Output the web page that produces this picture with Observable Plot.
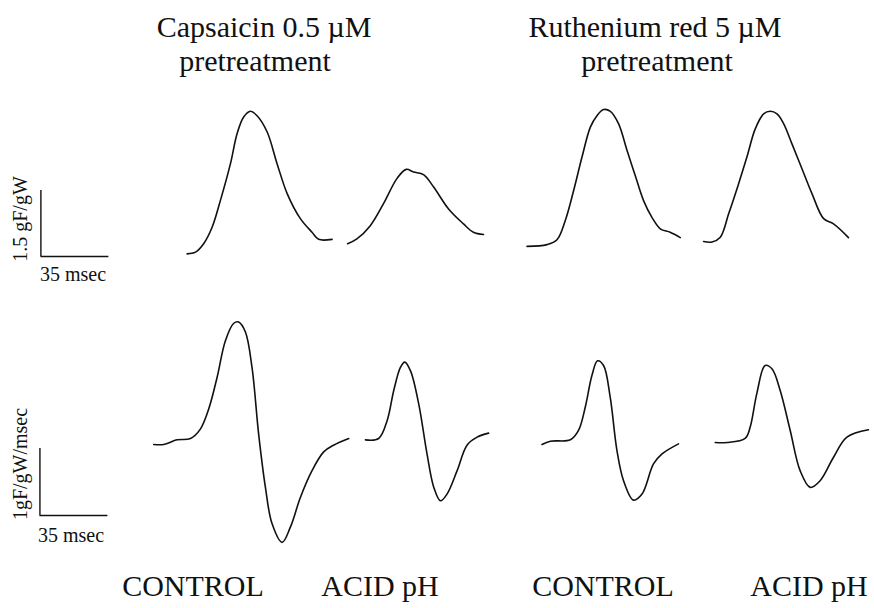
<!DOCTYPE html>
<html><head><meta charset="utf-8">
<script src="https://cdn.jsdelivr.net/npm/d3@7"></script>
<script src="https://cdn.jsdelivr.net/npm/@observablehq/plot@0.6"></script>
<style>
body{margin:0;background:#fff;}
#wrap{position:relative;width:874px;height:608px;overflow:hidden;background:#fff;}
#wrap svg{position:absolute;left:0;}
</style></head><body><div id="wrap"></div>
<script>
// ---- Data: [time (msec from trace onset), value] ----
// Force traces (gF/gW)
const capsaicinControlForce = [[0,0.06],[4.3,0.10],[8.5,0.29],[12.9,0.67],[17.1,1.27],[22.3,2.11],[25.7,2.79],[29.1,3.17],[32.6,3.30],[36.0,3.20],[41.2,2.83],[46.3,2.11],[51.5,1.43],[58.3,0.86],[64.3,0.55],[67.7,0.39],[74.6,0.39]];
const capsaicinAcidForce = [[0,0.29],[4.8,0.40],[11.7,0.70],[18.5,1.20],[25.4,1.77],[30.2,1.98],[34.0,1.92],[39.1,1.86],[44.3,1.58],[52.0,1.08],[59.7,0.74],[64.8,0.55],[70.0,0.50]];
const rutheniumControlForce = [[0,0.23],[10.3,0.27],[15.4,0.38],[19.7,0.82],[24.0,1.50],[28.3,2.26],[32.6,2.94],[36.0,3.20],[39.4,3.34],[42.9,3.30],[47.1,3.02],[51.5,2.41],[55.7,1.84],[60.0,1.27],[64.3,0.89],[68.6,0.63],[73.7,0.55],[78.9,0.43]];
const rutheniumAcidForce = [[0,0.34],[4.3,0.33],[8.6,0.44],[12.9,0.97],[18.0,1.65],[22.3,2.26],[26.6,2.90],[30.9,3.24],[34.3,3.30],[37.8,3.24],[41.2,3.02],[45.5,2.56],[50.6,2.00],[55.8,1.43],[61.8,0.86],[66.9,0.74],[74.6,0.43]];
// First-derivative traces (gF/gW/msec)
const capsaicinControlDeriv = [[0,-0.06],[5.1,-0.06],[12.0,0.01],[18.9,0.03],[24.0,0.17],[28.3,0.47],[32.6,0.94],[36.9,1.49],[41.2,1.75],[43.7,1.77],[47.2,1.62],[50.6,1.09],[54.0,0.10],[57.5,-0.70],[60.9,-1.24],[66.1,-1.52],[70.4,-1.29],[75.5,-0.85],[81.5,-0.45],[87.5,-0.17],[92.6,-0.07],[100.4,0.03]];
const capsaicinAcidDeriv = [[0,0.01],[6.8,0.03],[11.2,0.30],[14.6,0.75],[18.0,1.09],[20.2,1.17],[23.2,1.04],[27.4,0.55],[31.7,-0.20],[35.2,-0.70],[38.6,-0.90],[42.0,-0.80],[47.2,-0.45],[52.3,-0.07],[57.5,0.05],[63.4,0.11]];
const rutheniumControlDeriv = [[0,-0.06],[4.3,-0.01],[14.6,0.01],[18.8,0.15],[22.3,0.50],[25.7,0.97],[28.6,1.19],[31.7,1.12],[35.1,0.65],[38.6,-0.15],[42.0,-0.60],[47.1,-0.89],[51.5,-0.80],[57.4,-0.35],[61.8,-0.20],[70.3,-0.05]];
const rutheniumAcidDeriv = [[0,-0.03],[6.0,-0.03],[15.4,0.03],[18.0,0.20],[21.4,0.70],[25.7,1.12],[29.2,1.07],[33.4,0.75],[38.6,0.15],[43.7,-0.45],[48.9,-0.70],[54.0,-0.60],[60.9,-0.25],[67.8,0.05],[78.9,0.16]];

const groupTitles = ["Capsaicin 0.5 \u00b5M", "Ruthenium red 5 \u00b5M"];
const groupSubtitle = "pretreatment";
const conditionLabels = ["CONTROL", "ACID pH", "CONTROL", "ACID pH"];
const forceBar = {time: 35, amount: 1.5, label: "1.5 gF/gW", timeLabel: "35 msec"};
const derivBar = {time: 35, amount: 1, label: "1gF/gW/msec", timeLabel: "35 msec"};

// ---- Layout (msec offsets of each trace along the sweep) ----
const forceTraces = [
  {name: "cap-ctrl", start: 96.1, pts: capsaicinControlForce},
  {name: "cap-acid", start: 178.7, pts: capsaicinAcidForce},
  {name: "ru-ctrl", start: 271.1, pts: rutheniumControlForce},
  {name: "ru-acid", start: 362.0, pts: rutheniumAcidForce}
];
const derivTraces = [
  {name: "cap-ctrl", start: 78.9, pts: capsaicinControlDeriv},
  {name: "cap-acid", start: 187.9, pts: capsaicinAcidDeriv},
  {name: "ru-ctrl", start: 278.8, pts: rutheniumControlDeriv},
  {name: "ru-acid", start: 368.0, pts: rutheniumAcidDeriv}
];
const flat = trs => trs.flatMap(tr => tr.pts.map(([t, v]) => ({trace: tr.name, time: tr.start + t, value: v})));

const W = 874;
const xDomain = [0, 450];
const lineStyle = {x: "time", y: "value", z: "trace", curve: "catmull-rom", stroke: "#111", strokeWidth: 1.6, strokeLinejoin: "round"};

function panel(data, height, yDomain, bar, barStart, barBase) {
  return Plot.plot({
    width: W, height, margin: 0,
    x: {domain: xDomain, axis: null},
    y: {domain: yDomain, axis: null},
    style: {background: "transparent"},
    marks: [
      Plot.line(data, lineStyle),
      Plot.ruleX([barStart], {x: d => d, y1: () => barBase, y2: () => barBase + bar.amount, stroke: "#111", strokeWidth: 1.4}),
      Plot.ruleY([barBase], {y: d => d, x1: () => barStart, x2: () => barStart + bar.time, stroke: "#111", strokeWidth: 1.4})
    ]
  });
}

const wrap = document.getElementById("wrap");
const forcePanel = panel(flat(forceTraces), 300, [-1, 5.818], forceBar, 20.8, 0);
forcePanel.style.top = "0px";
wrap.appendChild(forcePanel);
const derivPanel = panel(flat(derivTraces), 308, [-2.5075, 2.0896], derivBar, 20.3, -1.12);
derivPanel.style.top = "300px";
wrap.appendChild(derivPanel);

// ---- Text labels ----
const serif = "'Liberation Serif', 'Times New Roman', serif";
const labels = [
  {text: groupTitles[0], x: 264, y: 37, size: 30},
  {text: groupSubtitle, x: 255, y: 71, size: 30},
  {text: groupTitles[1], x: 655, y: 37, size: 30},
  {text: groupSubtitle, x: 657, y: 71, size: 30},
  {text: conditionLabels[0], x: 193, y: 596, size: 30},
  {text: conditionLabels[1], x: 380, y: 596, size: 30},
  {text: conditionLabels[2], x: 603, y: 596, size: 30},
  {text: conditionLabels[3], x: 809, y: 596, size: 30},
  {text: forceBar.timeLabel, x: 73, y: 281, size: 20},
  {text: derivBar.timeLabel, x: 71, y: 542, size: 20},
  {text: forceBar.label, x: 27, y: 219, size: 20, rotate: true},
  {text: derivBar.label, x: 27, y: 464, size: 20, rotate: true}
];
const svg = d3.select(wrap).append("svg").attr("width", W).attr("height", 608).style("top", "0px");
svg.selectAll("text").data(labels).join("text")
  .attr("transform", d => `translate(${d.x},${d.y})` + (d.rotate ? " rotate(-90)" : ""))
  .attr("text-anchor", "middle")
  .attr("font-family", serif)
  .attr("font-size", d => d.size)
  .attr("fill", "#111")
  .text(d => d.text);
</script>
</body></html>
